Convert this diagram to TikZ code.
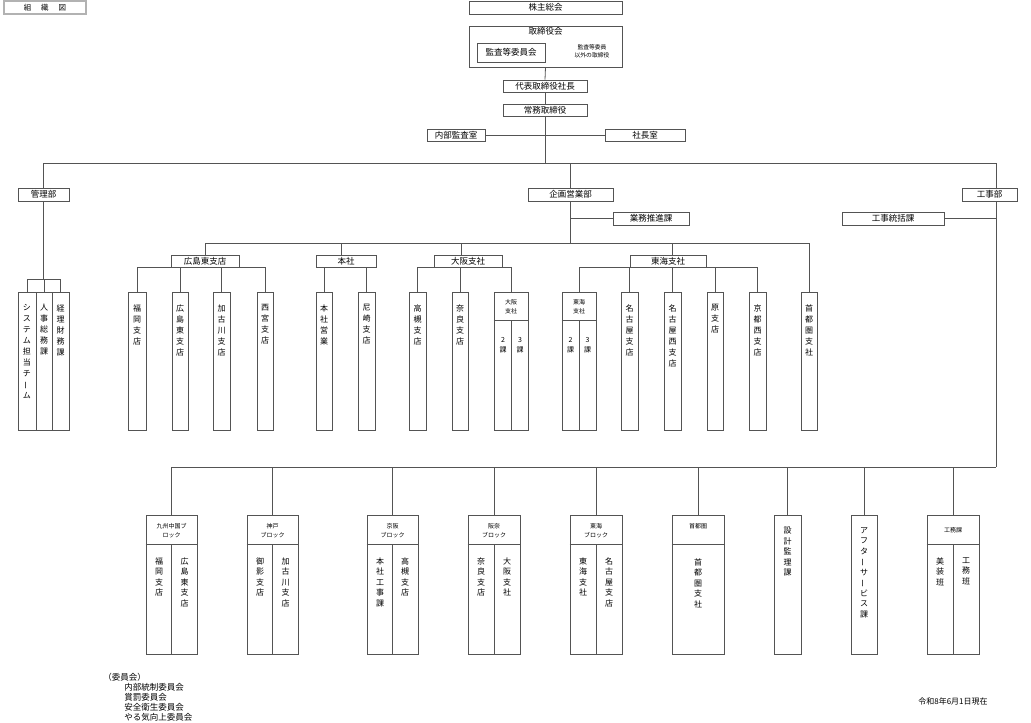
\documentclass[tikz,border=0pt]{standalone}
\usepackage{fontspec}
\setmainfont{Noto Sans CJK JP}
\usepackage{graphicx}
\definecolor{linec}{gray}{0.33}
\newcommand\vbar{\rotatebox[origin=c]{90}{ー}}
\newcommand\obox[6]{\node[box,minimum width={#4-#2},minimum height={#5-#3}] (#1) at ({(#2+#4)/2},{(#3+#5)/2}) {#6};}
\begin{document}
\begin{tikzpicture}[x=1pt,y=-1pt,line width=0.8pt,
  box/.style={draw=linec,inner sep=0pt,font=\fontsize{8.5}{10}\selectfont},
  ln/.style={draw=linec},
  vt/.style={inner sep=0pt,align=center,anchor=north,font=\fontsize{8}{11}\selectfont},
  vtb/.style={inner sep=0pt,align=center,anchor=north,font=\fontsize{8}{10.5}\selectfont},
  hd/.style={inner sep=0pt,align=center,font=\fontsize{6}{9}\selectfont},
  txt/.style={inner sep=0pt,font=\fontsize{8.5}{10}\selectfont}]
\useasboundingbox (0,0) rectangle (1031,723);
% title
\node[box,draw=gray!60,line width=1.6pt,minimum width=82,minimum height=13,font=\fontsize{7.5}{9}\selectfont] (title) at (45,7.5) {組\hspace{10pt}織\hspace{10pt}図};
% top
\obox{kabu}{469}{1}{622}{14}{株主総会}
\obox{tori}{469}{26}{622}{67}{}
\node[txt] (toriL) at (545.5,31) {取締役会};
\obox{kansa}{477}{43}{545}{62}{監査等委員会}
\node[hd,font=\fontsize{5.8}{8}\selectfont] (igai) at (592,51) {監査等委員\\以外の取締役};
\obox{daihyo}{503}{80}{587}{92}{代表取締役社長}
\obox{jomu}{503}{104}{587}{116}{常務取締役}
\obox{naibu}{427}{129}{485}{141}{内部監査室}
\obox{shacho}{605}{129}{685}{141}{社長室}
\draw[ln] (tori.south) -- (daihyo.north);
\draw[ln] (daihyo.south) -- (jomu.north);
\draw[ln] (naibu.east) -- (shacho.west);
% main bus
\coordinate (b1) at (0,163);
\coordinate (kx) at (996,0);
\obox{kanri}{18}{188}{69}{201}{管理部}
\obox{kikaku}{528}{188}{613}{201}{企画営業部}
\obox{koji}{962}{188}{1017}{201}{工事部}
\obox{gyomu}{613}{212}{689}{225}{業務推進課}
\obox{tokatsu}{842}{212}{944}{225}{工事統括課}
\draw[ln] (jomu.south) -- (jomu.south |- b1);
\draw[ln] (kanri.north |- b1) -- (kx |- b1);
\draw[ln] (kanri.north |- b1) -- (kanri.north);
\draw[ln] (kikaku.north |- b1) -- (kikaku.north);
\draw[ln] (kx |- b1) -- (kx |- koji.north);
\draw[ln] (kikaku.south |- gyomu.west) -- (gyomu.west);
\draw[ln] (tokatsu.east) -- (kx |- tokatsu.east);
% kanri children
\coordinate (kb) at (0,279);
\obox{sys}{18}{292}{36}{430}{}
\obox{jinji}{36}{292}{52}{430}{}
\obox{keiri}{52}{292}{69}{430}{}
\node[vt] (sysT) at (27,304) {シ\\ス\\テ\\ム\\担\\当\\チ\\\vbar\\ム};
\node[vt] (jinjiT) at (44,304) {人\\事\\総\\務\\課};
\node[vt] (keiriT) at (60.5,304) {経\\理\\財\\務\\課};
\draw[ln] (kanri.south) -- (kanri.south |- kb);
\draw[ln] (sys.north |- kb) -- (keiri.north |- kb);
\draw[ln] (sys.north |- kb) -- (sys.north);
\draw[ln] (jinji.north |- kb) -- (jinji.north);
\draw[ln] (keiri.north |- kb) -- (keiri.north);
% kikaku branches
\coordinate (b2) at (0,243);
\obox{hb}{171}{255}{239}{267}{広島東支店}
\obox{honsha}{316}{255}{376}{267}{本社}
\obox{osaka}{434}{255}{502}{267}{大阪支社}
\obox{tokai}{630}{255}{706}{267}{東海支社}
\obox{shuto}{801}{292}{817}{430}{}
\node[vt] (shutoT) at (809,304) {首\\都\\圏\\支\\社};
\draw[ln] (kikaku.south) -- (kikaku.south |- b2);
\draw[ln] (hb.north |- b2) -- (shuto.north |- b2);
\draw[ln] (hb.north |- b2) -- (hb.north);
\draw[ln] ([xshift=-5pt]honsha.north |- b2) -- ([xshift=-5pt]honsha.north);
\draw[ln] ([xshift=-7pt]osaka.north |- b2) -- ([xshift=-7pt]osaka.north);
\draw[ln] ([xshift=4pt]tokai.north |- b2) -- ([xshift=4pt]tokai.north);
\draw[ln] (shuto.north |- b2) -- (shuto.north);
% hiroshima higashi children
\obox{fuku}{128}{292}{146}{430}{}
\obox{hh}{172}{292}{188}{430}{}
\obox{kako}{213}{292}{230}{430}{}
\obox{nishi}{257}{292}{273}{430}{}
\node[vt] (fukuT) at (137,304) {福\\岡\\支\\店};
\node[vt] (hhT) at (180,304) {広\\島\\東\\支\\店};
\node[vt] (kakoT) at (221.5,304) {加\\古\\川\\支\\店};
\node[vt] (nishiT) at (265,304) {西\\宮\\支\\店};
\draw[ln] (fuku.north |- hb.south) -- (nishi.north |- hb.south);
\foreach \n in {fuku,hh,kako,nishi} \draw[ln] (\n.north |- hb.south) -- (\n.north);
% honsha children
\obox{honei}{316}{292}{332}{430}{}
\obox{amag}{358}{292}{375}{430}{}
\node[vt] (honeiT) at (324,304) {本\\社\\営\\業};
\node[vt] (amagT) at (366.5,304) {尼\\崎\\支\\店};
\draw[ln] (honei.north |- honsha.south) -- (amag.north |- honsha.south);
\foreach \n in {honei,amag} \draw[ln] (\n.north |- honsha.south) -- (\n.north);
% osaka children
\obox{taka}{409}{292}{426}{430}{}
\obox{nara}{452}{292}{468}{430}{}
\obox{osC}{494}{292}{528}{430}{}
\node[vt] (takaT) at (417.5,304) {高\\槻\\支\\店};
\node[vt] (naraT) at (460,304) {奈\\良\\支\\店};
\draw[ln] ([yshift=-29pt]osC.north west) -- ([yshift=-29pt]osC.north east);
\draw[ln] ([yshift=-29pt]osC.north) -- (osC.south);
\node[hd] (osCH) at (511,306.5) {大阪\\支社};
\node[hd,font=\fontsize{7}{10}\selectfont] (osC2) at (503,345) {2\\課};
\node[hd,font=\fontsize{7}{10}\selectfont] (osC3) at (520,345) {3\\課};
\draw[ln] (taka.north |- osaka.south) -- (osC.north |- osaka.south);
\foreach \n in {taka,nara,osC} \draw[ln] (\n.north |- osaka.south) -- (\n.north);
% tokai children
\obox{tkC}{562}{292}{596}{430}{}
\obox{nago}{621}{292}{638}{430}{}
\obox{nagon}{664}{292}{681}{430}{}
\obox{hara}{707}{292}{723}{430}{}
\obox{kyon}{749}{292}{766}{430}{}
\draw[ln] ([yshift=-29pt]tkC.north west) -- ([yshift=-29pt]tkC.north east);
\draw[ln] ([yshift=-29pt]tkC.north) -- (tkC.south);
\node[hd] (tkCH) at (579,306.5) {東海\\支社};
\node[hd,font=\fontsize{7}{10}\selectfont] (tkC2) at (570.5,345) {2\\課};
\node[hd,font=\fontsize{7}{10}\selectfont] (tkC3) at (587.5,345) {3\\課};
\node[vt] (nagoT) at (629.5,304) {名\\古\\屋\\支\\店};
\node[vt] (nagonT) at (672.5,304) {名\\古\\屋\\西\\支\\店};
\node[vt] (haraT) at (715,304) {原\\支\\店};
\node[vt] (kyonT) at (757.5,304) {京\\都\\西\\支\\店};
\draw[ln] (tkC.north |- tokai.south) -- (kyon.north |- tokai.south);
\foreach \n in {tkC,nago,nagon,hara,kyon} \draw[ln] (\n.north |- tokai.south) -- (\n.north);
% koji bottom
\coordinate (b3) at (0,467);
\obox{kyu}{146}{515}{197}{654}{}
\obox{kobe}{247}{515}{298}{654}{}
\obox{keihan}{367}{515}{418}{654}{}
\obox{hanna}{468}{515}{520}{654}{}
\obox{tkB}{570}{515}{622}{654}{}
\obox{shB}{672}{515}{724}{654}{}
\obox{sekkei}{774}{515}{801}{654}{}
\obox{after}{851}{515}{877}{654}{}
\obox{komu}{927}{515}{979}{654}{}
\foreach \n in {kyu,kobe,keihan,hanna,tkB,komu}{
  \draw[ln] ([yshift=-30pt]\n.north west) -- ([yshift=-30pt]\n.north east);
  \draw[ln] ([yshift=-30pt]\n.north) -- (\n.south);}
\draw[ln] ([yshift=-30pt]shB.north west) -- ([yshift=-30pt]shB.north east);
\draw[ln] (kx |- koji.south) -- (kx |- b3);
\draw[ln] (kyu.north |- b3) -- (kx |- b3);
\foreach \n in {kyu,kobe,keihan,hanna,tkB,shB,sekkei,after,komu} \draw[ln] (\n.north |- b3) -- (\n.north);
\node[hd] (kyuH) at (171.5,530.5) {九州中国ブ\\ロック};
\node[hd] (kobeH) at (272.5,530.5) {神戸\\ブロック};
\node[hd] (keihanH) at (392.5,530.5) {京阪\\ブロック};
\node[hd] (hannaH) at (494,530.5) {阪奈\\ブロック};
\node[hd] (tkBH) at (596,530.5) {東海\\ブロック};
\node[hd] (shBH) at (698,526) {首都圏};
\node[hd] (komuH) at (953,530) {工務課};
\node[vtb] (kyu1) at (159,557) {福\\岡\\支\\店};
\node[vtb] (kyu2) at (184.5,557) {広\\島\\東\\支\\店};
\node[vtb] (kobe1) at (260,557) {御\\影\\支\\店};
\node[vtb] (kobe2) at (285.5,557) {加\\古\\川\\支\\店};
\node[vtb] (keihan1) at (380,557) {本\\社\\工\\事\\課};
\node[vtb] (keihan2) at (405,557) {高\\槻\\支\\店};
\node[vtb] (hanna1) at (481,557) {奈\\良\\支\\店};
\node[vtb] (hanna2) at (507,557) {大\\阪\\支\\社};
\node[vtb] (tkB1) at (583,557) {東\\海\\支\\社};
\node[vtb] (tkB2) at (609,557) {名\\古\\屋\\支\\店};
\node[vtb] (shB1) at (698,558) {首\\都\\圏\\支\\社};
\node[vtb] (sekkeiT) at (787.5,527) {設\\計\\監\\理\\課};
\node[vtb] (afterT) at (864,527) {ア\\フ\\タ\\\vbar\\サ\\\vbar\\ビ\\ス\\課};
\node[vtb] (komu1) at (940,557) {美\\装\\班};
\node[vtb] (komu2) at (966,557) {工\\務\\班};
% footer
\node[txt,anchor=west] (iin) at (103,677) {（委員会）};
\node[txt,anchor=north west,align=left] (iinlist) at (124,683) {内部統制委員会\\賞罰委員会\\安全衛生委員会\\やる気向上委員会};
\node[txt,font=\fontsize{8}{9}\selectfont] (date) at (953,701) {令和8年6月1日現在};
\end{tikzpicture}
\end{document}
